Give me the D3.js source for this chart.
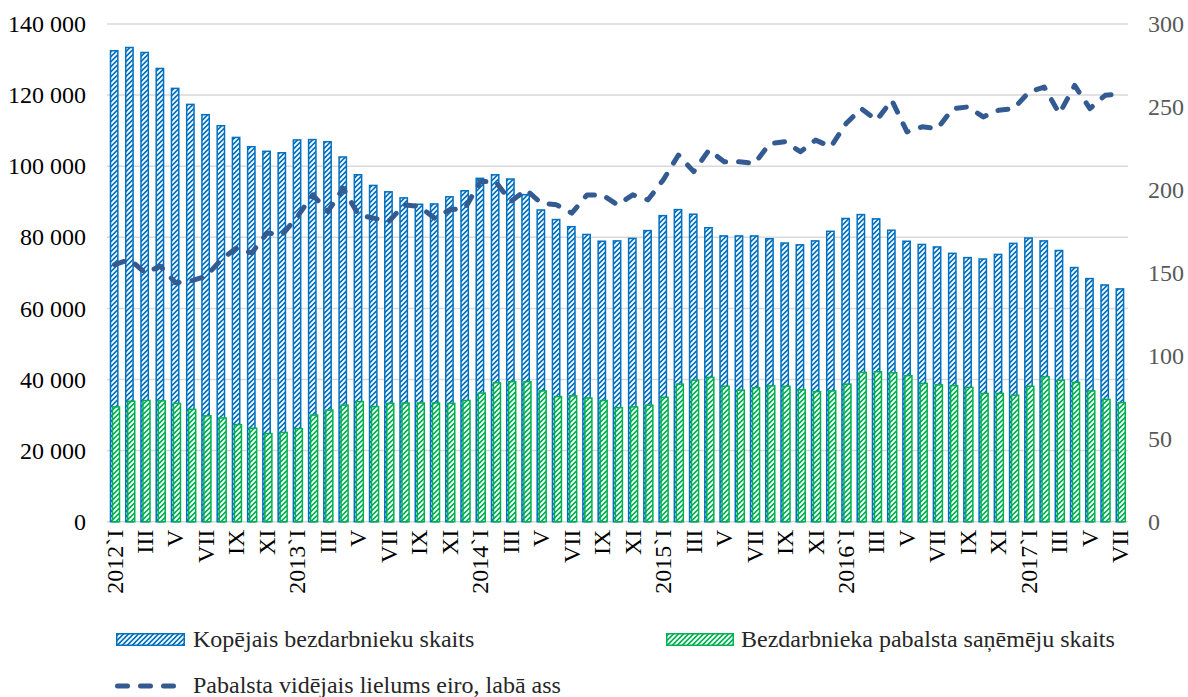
<!DOCTYPE html>
<html><head><meta charset="utf-8">
<script src="https://cdn.jsdelivr.net/npm/d3@7"></script>
<style>
body{margin:0;background:#fff;}
svg{display:block;font-family:"Liberation Serif","Times New Roman",serif;}
</style></head>
<body><svg id="c" width="1188" height="697"></svg>
<script>
const categories = [
 "2012`I","II","III","IV","V","VI","VII","VIII","IX","X","XI","XII",
 "2013`I","II","III","IV","V","VI","VII","VIII","IX","X","XI","XII",
 "2014`I","II","III","IV","V","VI","VII","VIII","IX","X","XI","XII",
 "2015`I","II","III","IV","V","VI","VII","VIII","IX","X","XI","XII",
 "2016`I","II","III","IV","V","VI","VII","VIII","IX","X","XI","XII",
 "2017`I","II","III","IV","V","VI","VII"];
const totalUnemployed = [
 132700,133600,132200,127700,122100,117600,114700,111600,108300,105700,104400,104000,
 107600,107700,107100,102800,97800,94800,93000,91300,89500,89600,91600,93300,
 96800,97800,96600,92200,87900,85200,83200,81000,79100,79200,79900,82100,
 86300,88000,86700,82900,80600,80600,80600,79800,78600,78100,79200,81900,
 85500,86600,85400,82200,79100,78200,77500,75700,74500,74100,75400,78500,
 80000,79200,76500,71700,68600,66800,65700];
const benefitRecipients = [
 32500,34100,34300,34200,33500,31800,30000,29400,27500,26500,25000,25300,
 26400,30200,31600,33000,34000,32600,33500,33600,33600,33600,33500,34300,
 36400,39300,39600,39600,37000,35400,35600,35000,34300,32300,32500,33000,
 35200,38900,40000,40800,38300,37200,37900,38400,38300,37300,36800,37000,
 38900,42200,42400,42100,41300,39100,38700,38500,38000,36300,36300,35800,
 38300,41000,40000,39400,37000,34600,33700];
const avgBenefit = [
 155,158,150,154,144,145,148,158,165,162,174,173,
 184,197,187,201,185,183,181,191,190,183,188,189,
 205,205,193,200,192,191,186,197,197,191,197,194,
 206,221,211,224,217,217,216,228,229,223,230,226,
 240,249,242,254,235,238,237,249,250,244,248,249,
 259,262,246,263,249,257,258];
const leftTicks = [0,20000,40000,60000,80000,100000,120000,140000];
const rightTicks = [0,50,100,150,200,250,300];
const seriesNames = ["Kopējais bezdarbnieku skaits","Bezdarbnieka pabalsta saņēmēju skaits","Pabalsta vidējais lielums eiro, labā ass"];

const BLUE="#0070C0", GREEN="#00B050", LINE="#335B91";
const FS = 24;
const svg = d3.select("#c");
const defs = svg.append("defs");
function pat(id,color){
  const p = defs.append("pattern").attr("id",id).attr("patternUnits","userSpaceOnUse")
    .attr("width",5).attr("height",5);
  p.append("rect").attr("width",5).attr("height",5).attr("fill",color);
  p.append("path").attr("d","M-1,6 L6,-1 M-1,1 L1,-1 M4,6 L6,4")
    .attr("stroke","#fff").attr("stroke-width",1.9);
}
pat("pb",BLUE); pat("pg",GREEN);

const idx = d3.range(categories.length);
const x = d3.scaleBand().domain(idx).range([107,1128]).padding(0);
const y = d3.scaleLinear().domain([0,140000]).range([521.7,24]);
const yR = d3.scaleLinear().domain([0,300]).range([521.7,24]);
const bw = x.bandwidth();
const loc = d3.formatLocale({decimal:",",thousands:" ",grouping:[3],currency:["",""]});
const fmt = loc.format(",");

// gridlines
svg.append("g").selectAll("line").data(leftTicks).join("line")
  .attr("x1",107).attr("x2",1128).attr("y1",d=>y(d)).attr("y2",d=>y(d))
  .attr("stroke","#D9D9D9").attr("stroke-width",1.5);

// left axis
const gL = svg.append("g").attr("transform","translate(88,0)")
  .call(d3.axisLeft(y).tickValues(leftTicks).tickFormat(fmt).tickSize(0).tickPadding(2));
gL.select(".domain").remove();
gL.selectAll("text").attr("font-size",FS).attr("fill","#000").attr("font-family","Liberation Serif");

// right axis
const gR = svg.append("g").attr("transform","translate(1146,0)")
  .call(d3.axisRight(yR).tickValues(rightTicks).tickSize(0).tickPadding(2));
gR.select(".domain").remove();
gR.selectAll("text").attr("font-size",FS).attr("fill","#595959").attr("font-family","Liberation Serif");

// bottom axis
const gB = svg.append("g").attr("transform",`translate(0,${y(0)})`)
  .call(d3.axisBottom(x).tickValues(idx.filter(i=>i%2===0)).tickFormat(i=>categories[i]).tickSize(0));
gB.select(".domain").remove();
gB.selectAll("text").attr("font-size",FS).attr("fill","#000").attr("font-family","Liberation Serif")
  .attr("transform","rotate(-90)").attr("text-anchor","end").attr("x",-8).attr("y",0).attr("dy","0.33em");

// bars
svg.append("g").selectAll("rect").data(totalUnemployed).join("rect")
  .attr("x",(d,i)=>x(i)+bw*0.18+0.75).attr("width",bw*0.58-1.5)
  .attr("y",d=>y(d)+0.75).attr("height",d=>y(0)-y(d)-0.75)
  .attr("fill","url(#pb)").attr("stroke",BLUE).attr("stroke-width",1.5);
svg.append("g").selectAll("rect").data(benefitRecipients).join("rect")
  .attr("x",(d,i)=>x(i)+bw*0.31+0.75).attr("width",bw*0.56-1.5)
  .attr("y",d=>y(d)+0.75).attr("height",d=>y(0)-y(d)-0.75)
  .attr("fill","url(#pg)").attr("stroke",GREEN).attr("stroke-width",1.5);

// line
const line = d3.line().x((d,i)=>x(i)+bw/2).y(d=>yR(d));
svg.append("path").datum(avgBenefit).attr("d",line).attr("fill","none")
  .attr("stroke",LINE).attr("stroke-width",5).attr("stroke-dasharray","10,13")
  .attr("stroke-linecap","round").attr("stroke-linejoin","round");

// legend
const lg = svg.append("g");
lg.append("rect").attr("x",116.75).attr("y",633.75).attr("width",67.5).attr("height",11.5)
  .attr("fill","url(#pb)").attr("stroke",BLUE).attr("stroke-width",1.5);
lg.append("text").attr("x",193).attr("y",639).attr("dy","0.35em").attr("font-size",FS).attr("fill","#262626").text(seriesNames[0]);
lg.append("rect").attr("x",666.75).attr("y",633.75).attr("width",66.5).attr("height",11.5)
  .attr("fill","url(#pg)").attr("stroke",GREEN).attr("stroke-width",1.5);
lg.append("text").attr("x",741).attr("y",639).attr("dy","0.35em").attr("font-size",FS).attr("fill","#262626").text(seriesNames[1]);
lg.append("line").attr("x1",117.5).attr("x2",178).attr("y1",686).attr("y2",686)
  .attr("stroke",LINE).attr("stroke-width",5).attr("stroke-dasharray","10,13").attr("stroke-linecap","round");
lg.append("text").attr("x",193).attr("y",685).attr("dy","0.35em").attr("font-size",FS).attr("fill","#262626").text(seriesNames[2]);
</script></body></html>
